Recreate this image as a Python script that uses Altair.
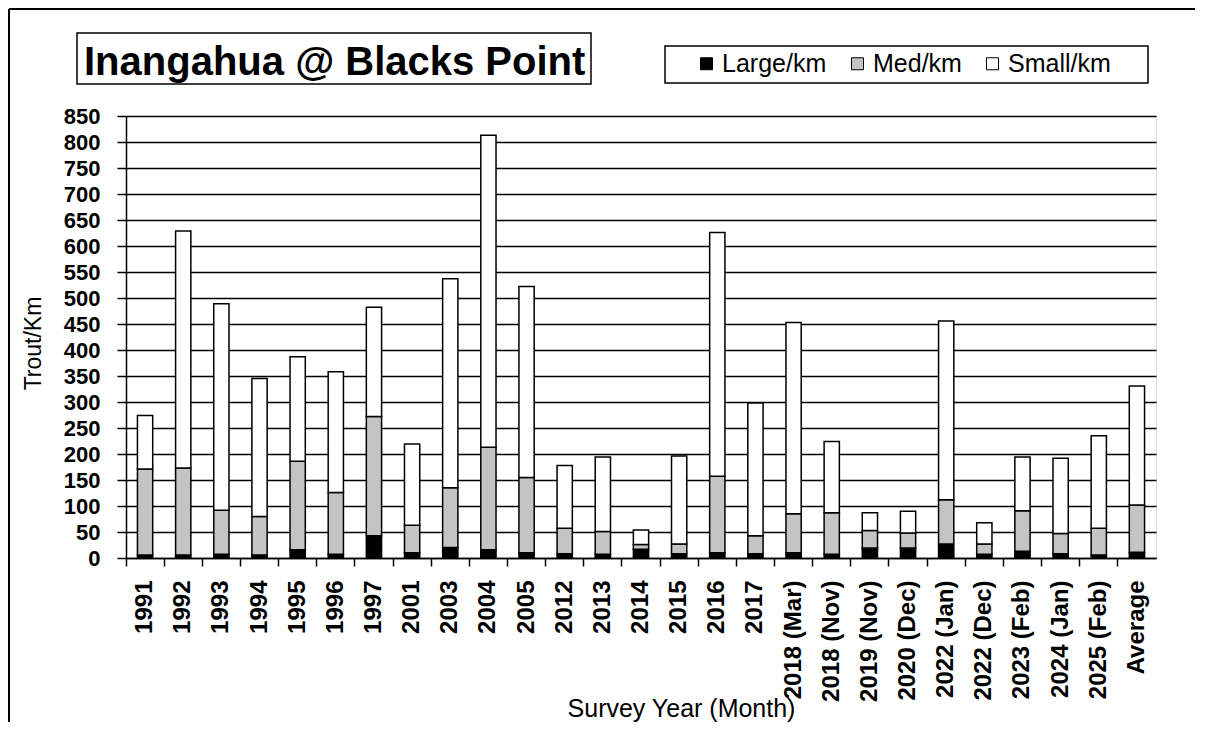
import altair as alt
import pandas as pd

chart_title = "Inangahua @ Blacks Point"
x_title = "Survey Year (Month)"
y_title = "Trout/Km"

categories = ["1991", "1992", "1993", "1994", "1995", "1996", "1997", "2001", "2003",
              "2004", "2005", "2012", "2013", "2014", "2015", "2016", "2017",
              "2018 (Mar)", "2018 (Nov)", "2019 (Nov)", "2020 (Dec)", "2022 (Jan)",
              "2022 (Dec)", "2023 (Feb)", "2024 (Jan)", "2025 (Feb)", "Average"]
large = [6, 6, 7, 6, 16, 7, 43, 10, 20, 16, 10, 8, 7, 17, 8, 10, 8, 10, 7, 19, 19, 27, 7, 13, 8, 6, 11]
med = [165, 167, 85, 74, 170, 119, 229, 53, 115, 197, 145, 49, 44, 9, 19, 147, 35, 75, 80, 34, 29, 85, 20, 78, 39, 51, 91]
small = [103, 456, 397, 265, 201, 232, 210, 156, 402, 600, 367, 121, 143, 28, 169, 469, 255, 368, 137, 34, 42, 344, 41, 103, 145, 178, 229]

series_names = ["Large/km", "Med/km", "Small/km"]
series_colors = ["#000000", "#c4c4c4", "#ffffff"]
y_ticks = [0, 50, 100, 150, 200, 250, 300, 350, 400, 450, 500, 550, 600, 650, 700, 750, 800, 850]

rows = []
for i, c in enumerate(categories):
    for k, (name, vals) in enumerate(zip(series_names, [large, med, small])):
        rows.append({"cat": c, "series": name, "value": vals[i], "ord": k})
df = pd.DataFrame(rows)

W, H = 1030, 442
FONT = "Liberation Sans"

bars = alt.Chart(df).mark_bar(
    width=alt.RelativeBandSize(0.4), stroke="black", strokeWidth=1.5
).encode(
    x=alt.X("cat:N", sort=categories,
            scale=alt.Scale(paddingInner=0, paddingOuter=0),
            axis=alt.Axis(title=x_title, labelAngle=-90, labelFont=FONT,
                          labelFontWeight="bold", labelFontSize=24, labelColor="black",
                          labelPadding=14, labelAlign="right", labelBaseline="middle",
                          tickSize=8, tickColor="black", tickWidth=1.5, bandPosition=0,
                          domainColor="black", domainWidth=1.5,
                          titleFont=FONT, titleFontSize=25, titleFontWeight="normal",
                          titleColor="black", titleX=555, titleY=150,
                          titleAlign="center", titleBaseline="middle")),
    y=alt.Y("value:Q", stack="zero",
            scale=alt.Scale(domain=[0, 850], nice=False),
            axis=alt.Axis(values=y_ticks, title=y_title, grid=True, gridColor="black",
                          gridWidth=1.5, gridOpacity=1, labelFont=FONT,
                          labelFontWeight="bold", labelFontSize=22, labelColor="black",
                          labelPadding=17, tickSize=9, tickColor="black", tickWidth=1.5,
                          domainColor="black", domainWidth=1.5,
                          titleFont=FONT, titleFontSize=23, titleFontWeight="normal",
                          titleColor="black", titleX=-93, titleY=227,
                          titleAlign="center", titleBaseline="middle")),
    color=alt.Color("series:N",
                    scale=alt.Scale(domain=series_names, range=series_colors),
                    legend=alt.Legend(title=None, orient="none", legendX=568, legendY=-65,
                                      direction="horizontal", symbolType="square",
                                      symbolSize=144, symbolStrokeColor="black",
                                      symbolStrokeWidth=1, labelFont=FONT,
                                      labelFontSize=25, labelColor="black",
                                      columnPadding=18, labelOffset=3, padding=0)),
    order=alt.Order("ord:Q", sort="ascending"),
)

one = pd.DataFrame({"a": [0]})

title_box = alt.Chart(one).mark_rect(fill="white", stroke="black", strokeWidth=1.5).encode(
    x=alt.value(-49), x2=alt.value(465), y=alt.value(-83), y2=alt.value(-32))
legend_box = alt.Chart(one).mark_rect(fill="white", stroke="black", strokeWidth=1.5).encode(
    x=alt.value(539), x2=alt.value(1022), y=alt.value(-70), y2=alt.value(-33))
title_text = alt.Chart(one).mark_text(
    text=chart_title, font=FONT, fontSize=40, fontWeight="bold",
    align="left", baseline="alphabetic", color="black").encode(
    x=alt.value(-42), y=alt.value(-41))
border_top = alt.Chart(one).mark_rule(color="black", strokeWidth=2).encode(
    x=alt.value(-117), x2=alt.value(W + 39), y=alt.value(-107))
border_left = alt.Chart(one).mark_rule(color="black", strokeWidth=2).encode(
    x=alt.value(-117), y=alt.value(-107), y2=alt.value(H + 164))

chart = alt.layer(border_top, border_left, title_box, legend_box, title_text, bars).properties(
    width=W, height=H,
    autosize=alt.AutoSizeParams(type="none"),
    padding={"left": 118, "top": 108, "right": 40, "bottom": 165},
).configure_view(stroke="black", strokeWidth=1.5).configure(font=FONT)

chart.save("out.html", embed_options={"renderer": "svg", "actions": False})
